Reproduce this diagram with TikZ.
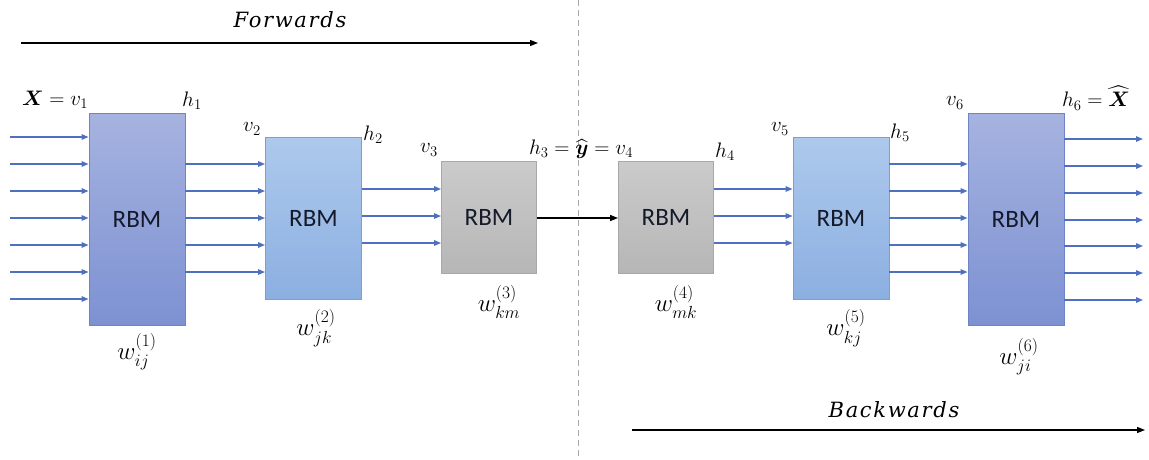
\RequirePackage{fix-cm}
\documentclass[tikz,border=0pt]{standalone}
\usepackage{amsmath}
\usepackage{fontspec}
\setsansfont{Carlito}
\newfontfamily\dirfont[LetterSpace=8]{DejaVu Serif}
\usetikzlibrary{arrows.meta}
\definecolor{bigtop}{HTML}{A6B3E0}
\definecolor{bigbot}{HTML}{7D91D2}
\definecolor{bigdraw}{HTML}{6F84C4}
\definecolor{midtop}{HTML}{ADC9EC}
\definecolor{midbot}{HTML}{8CAFE2}
\definecolor{middraw}{HTML}{7C9ED6}
\definecolor{graytop}{HTML}{CBCBCB}
\definecolor{graybot}{HTML}{B6B6B6}
\definecolor{graydraw}{HTML}{A8A8A8}
\definecolor{linkblue}{HTML}{4F70BE}
\definecolor{rbmtext}{HTML}{141A2A}
\begin{document}
\begin{tikzpicture}[x=1pt,y=-1pt,
  rbm/.style={rectangle, line width=0.9pt, inner sep=0pt, text=rbmtext,
    font=\sffamily\fontsize{25}{29}\selectfont},
  bigbox/.style={rbm, top color=bigtop, bottom color=bigbot, draw=bigdraw,
    minimum width=96pt, minimum height=212pt},
  midbox/.style={rbm, top color=midtop, bottom color=midbot, draw=middraw,
    minimum width=96pt, minimum height=162pt},
  graybox/.style={rbm, top color=graytop, bottom color=graybot, draw=graydraw,
    minimum width=95pt, minimum height=112pt},
  link/.style={draw=linkblue, line width=1.4pt, -{Triangle[length=7pt,width=5.5pt]}},
  blackarrow/.style={draw=black, line width=1.4pt, -{Triangle[length=8pt,width=6pt]}},
  corner/.style={inner sep=0pt, font=\fontsize{21}{24}\selectfont},
  wlabel/.style={inner sep=0pt, font=\fontsize{25}{29}\selectfont},
  dirlabel/.style={inner sep=0pt, font=\dirfont\itshape\fontsize{21}{24}\selectfont}
]
\useasboundingbox (0,0) rectangle (1149,459);
\fill[white] (0,0) rectangle (1149,459);

% dashed divider
\coordinate (dtop) at (578,0);
\coordinate (dbot) at (578,459);
\draw[gray!70, line width=0.8pt, dash pattern=on 6pt off 4pt] (dtop) -- (dbot);

% boxes
\node[bigbox]  (b1) at (137,219.5) {RBM};
\node[midbox]  (b2) at (313.5,218) {RBM};
\node[graybox] (b3) at (489,217) {RBM};
\node[graybox] (b4) at (666,217) {RBM};
\node[midbox]  (b5) at (841,218) {RBM};
\node[bigbox]  (b6) at (1016,219.5) {RBM};

% input arrows
\foreach \y in {137,164,191,218,245,272,299}
  \draw[link] (10,\y) -- (b1.west |- 0,\y);
% b1 -> b2
\foreach \y in {164,191,218,245,272}
  \draw[link] (b1.east |- 0,\y) -- (b2.west |- 0,\y);
% b2 -> b3
\foreach \y in {189,216,243}
  \draw[link] (b2.east |- 0,\y) -- (b3.west |- 0,\y);
% b3 -> b4
\draw[blackarrow] (b3.east |- 0,218) -- (b4.west |- 0,218);
% b4 -> b5
\foreach \y in {189,216,243}
  \draw[link] (b4.east |- 0,\y) -- (b5.west |- 0,\y);
% b5 -> b6
\foreach \y in {164,191,218,245,272}
  \draw[link] (b5.east |- 0,\y) -- (b6.west |- 0,\y);
% outputs
\foreach \y in {139,166,193,220,246,273,300}
  \draw[link] (b6.east |- 0,\y) -- (1143,\y);

% direction arrows
\node[dirlabel] (fw) at (290,20) {Forwards};
\coordinate (fws) at (21,43);
\coordinate (fwe) at (538,43);
\draw[blackarrow, line width=1.2pt] (fws) -- (fwe);
\node[dirlabel] (bw) at (894,410) {Backwards};
\coordinate (bws) at (632,430);
\coordinate (bwe) at (1145,430);
\draw[blackarrow, line width=1.2pt] (bws) -- (bwe);

% corner labels
\node[corner] (l1) at (55,100) {$\boldsymbol{X} = v_1$};
\node[corner] (l2) at (192,101) {$h_1$};
\node[corner] (l3) at (252,129) {$v_2$};
\node[corner] (l4) at (373,135) {$h_2$};
\node[corner] (l5) at (429,150) {$v_3$};
\node[corner] (l6) at (581,149) {$h_3 = \widehat{\boldsymbol{y}} = v_4$};
\node[corner] (l7) at (725,152) {$h_4$};
\node[corner] (l8) at (780,129) {$v_5$};
\node[corner] (l9) at (900,133) {$h_5$};
\node[corner] (l10) at (955,103) {$v_6$};
\node[corner] (l11) at (1096,98) {$h_6 = \widehat{\boldsymbol{X}}$};

% weight labels
\node[wlabel] (w1) at (137,352) {$w_{ij}^{(1)}$};
\node[wlabel] (w2) at (316,328) {$w_{jk}^{(2)}$};
\node[wlabel] (w3) at (499,302) {$w_{km}^{(3)}$};
\node[wlabel] (w4) at (676,302) {$w_{mk}^{(4)}$};
\node[wlabel] (w5) at (846,328) {$w_{kj}^{(5)}$};
\node[wlabel] (w6) at (1019,357) {$w_{ji}^{(6)}$};
\end{tikzpicture}
\end{document}
